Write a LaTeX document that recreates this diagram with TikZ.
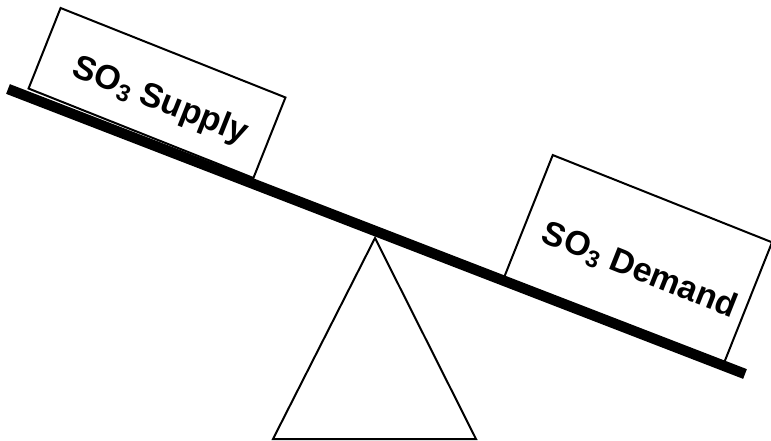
\documentclass[tikz,border=0pt]{standalone}
\usepackage{fontspec}
\setmainfont{Liberation Sans}
\usetikzlibrary{positioning, calc}
\tikzset{
  box/.style  ={draw, line width=1.5pt, fill=white, inner sep=0pt, rotate=-21.7},
  lbl/.style  ={inner sep=0pt, rotate=-21.7, font=\bfseries\fontsize{25.5}{30}\selectfont},
  beam/.style ={line width=7.8pt, line cap=butt},
  stand/.style={draw, line width=1.5pt, line join=miter},
}
\begin{document}
\begin{tikzpicture}[x=0.75pt, y=0.75pt]
  \useasboundingbox (0,0) rectangle (771,-441);
  \node[box, minimum width=181.5pt, minimum height=65pt] (supply) at (157,-93) {};
  \node[box, minimum width=177pt, minimum height=99pt] (demand) at (638,-260) {};
  \node[lbl] (supplyText) at ($(supply.center)+(-21.7:4.5pt)+(-111.7:5pt)$)
     {SO\textsubscript{3} Supply};
  \node[lbl] (demandText) at ($(demand.center)+(-21.7:4pt)+(-111.7:7pt)$)
     {SO\textsubscript{3} Demand};
  \coordinate (beamL) at (8,-89);
  \coordinate (beamR) at (745,-374);
  \coordinate (apex)  at (375,-238);
  \coordinate (baseL) at (273,-439);
  \coordinate (baseR) at (476,-439);
  \draw[beam] (beamL) -- (beamR);
  \draw[stand] (apex) -- (baseL) -- (baseR) -- cycle;
\end{tikzpicture}
\end{document}
